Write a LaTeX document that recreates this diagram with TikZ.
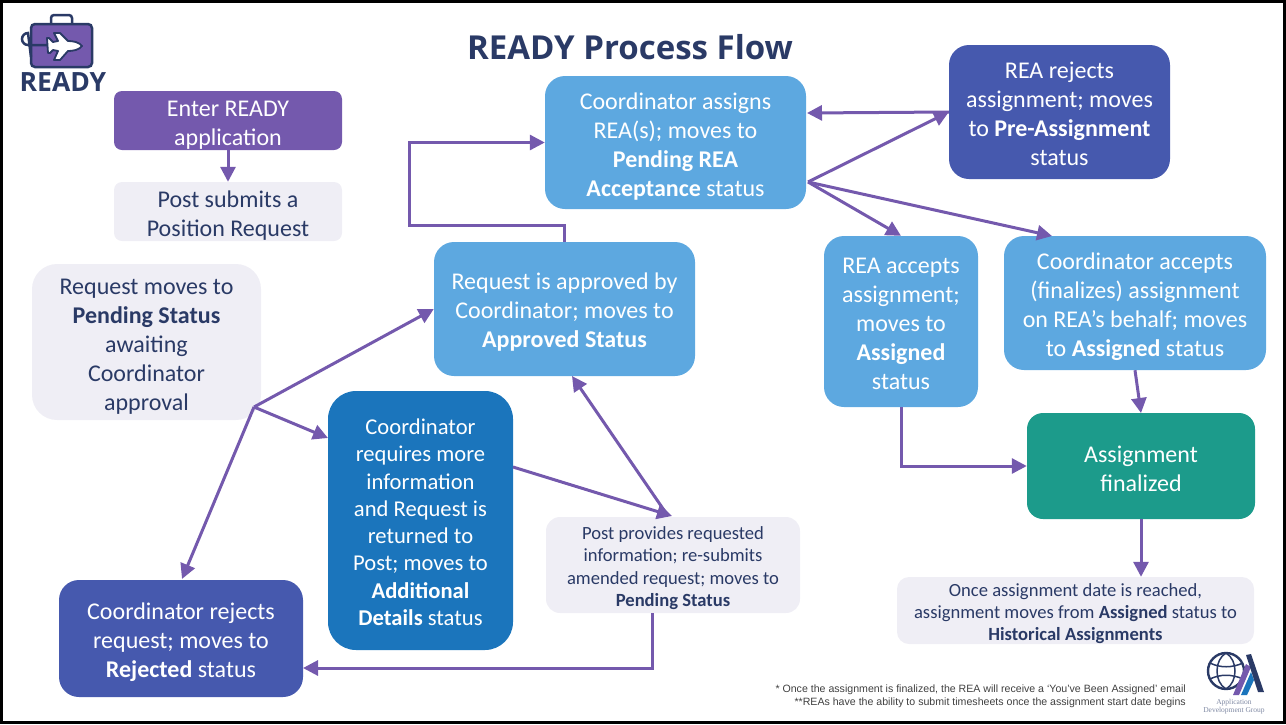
\documentclass[tikz,border=0pt]{standalone}
\usepackage{fontspec}
\setmainfont{Carlito}
\newfontfamily\titlefont{Open Sans}
\newfontfamily\notefont{Liberation Sans}
\newfontfamily\adgfont{Liberation Serif}
\usetikzlibrary{arrows.meta}
\definecolor{readypurple}{HTML}{7459AD}
\definecolor{readynavy}{HTML}{2A3A66}
\definecolor{palebox}{HTML}{EFEEF5}
\definecolor{skybox}{HTML}{5DA8E0}
\definecolor{indigobox}{HTML}{4659AE}
\definecolor{bluebox}{HTML}{1B75BC}
\definecolor{tealbox}{HTML}{1C9B8B}
\newcommand{\lowtext}[1][1.03]{\rule{0pt}{#1em}}
\tikzset{
	flowbox/.style={inner sep=0pt, align=center, font=\fontsize{24}{29}\selectfont, text=white},
	palestep/.style={flowbox, fill=palebox, text=readynavy},
	smallstep/.style={palestep, font=\fontsize{18.6}{22.3}\selectfont},
	skystep/.style={flowbox, fill=skybox, rounded corners=20pt},
	flowline/.style={draw=readypurple, line width=3pt, -{Triangle[length=15pt,width=15pt]}}
}
\begin{document}
\begin{tikzpicture}[x=1pt,y=-1pt]
	\useasboundingbox (0,0) rectangle (1286,724);
	\draw [black, line width=3pt] (1.5,1.5) rectangle (1284.5,722.5);

	% title and logo
	\node (title) at (630,47) [font=\titlefont\bfseries\fontsize{33}{38}\selectfont, text=readynavy] {READY Process Flow};
	\draw [readynavy, line width=2.5pt, rounded corners=3pt] (51,24) -- (51,15) -- (72,15) -- (72,24);
	\draw [readynavy, fill=readypurple, line width=2.5pt, rounded corners=4pt] (31,24) rectangle (92,67);
	\draw [readynavy, line width=2.5pt] (47,45) -- (28,45) arc (90:270:6) -- (31,57);
	\draw [readynavy, fill=white, line width=1.8pt, line join=round] (82,46) .. controls (79,42) and (73,41) .. (68,41) -- (60,33) -- (54,33) -- (58,41) -- (53,42) -- (49,38) -- (47,38) -- (48,53) -- (50,53) -- (53,50) -- (58,51) -- (54,60) -- (60,60) -- (68,51) .. controls (73,51) and (79,50) .. (82,46) -- cycle;
	\node (logotext) at (63,82) [font=\titlefont\bfseries\fontsize{26.5}{30}\selectfont, text=readynavy] {READY};

	% left column
	\node (enter) at (228,120.5) [flowbox, fill=readypurple, rounded corners=8pt, minimum width=228pt, minimum height=59pt] {\lowtext Enter READY\\application};
	\node (post) at (228,211.5) [palestep, rounded corners=8pt, minimum width=228pt, minimum height=59pt] {\lowtext Post submits a\\Position Request};
	\node (pending) at (146.5,342) [palestep, rounded corners=25pt, minimum width=229pt, minimum height=156pt] {\lowtext Request moves to\\\textbf{Pending Status}\\awaiting\\Coordinator\\approval};
	\node (rejected) at (181,638.5) [flowbox, fill=indigobox, rounded corners=20pt, minimum width=244pt, minimum height=117pt] {\lowtext Coordinator rejects\\request; moves to\\\textbf{Rejected} status};
	\node (more) at (420.5,520.5) [flowbox, fill=bluebox, rounded corners=28pt, minimum width=185pt, minimum height=259pt, font=\fontsize{22.6}{27.3}\selectfont] {\lowtext[.85]Coordinator\\requires more\\information\\and Request is\\returned to\\Post; moves to\\\textbf{Additional}\\\textbf{Details} status};

	% middle
	\node (approved) at (564.5,309) [skystep, minimum width=261pt, minimum height=134pt] {\lowtext[.95]Request is approved by\\Coordinator; moves to\\\textbf{Approved Status}};
	\node (assigns) at (675.5,142.5) [skystep, minimum width=261pt, minimum height=133pt] {\lowtext Coordinator assigns\\REA(s); moves to\\\textbf{Pending REA}\\\textbf{Acceptance} status};
	\node (provides) at (673,565) [smallstep, rounded corners=14pt, minimum width=254pt, minimum height=96pt] {\lowtext Post provides requested\\information; re-submits\\amended request; moves to\\\textbf{Pending Status}};

	% right
	\node (reject) at (1059.5,112) [flowbox, fill=indigobox, rounded corners=20pt, minimum width=221pt, minimum height=134pt] {\lowtext[.86]REA rejects\\assignment; moves\\to \textbf{Pre-Assignment}\\status};
	\node (accepts) at (901,321.5) [skystep, minimum width=154pt, minimum height=171pt] {\lowtext[.86]REA accepts\\assignment;\\moves to\\\textbf{Assigned}\\status};
	\node (behalf) at (1135,303) [skystep, minimum width=262pt, minimum height=134pt] {\lowtext Coordinator accepts\\(finalizes) assignment\\on REA’s behalf; moves\\to \textbf{Assigned} status};
	\node (final) at (1141,466) [flowbox, fill=tealbox, rounded corners=16pt, minimum width=228pt, minimum height=106pt] {\lowtext[.95]Assignment\\finalized};
	\node (history) at (1075.5,610.5) [smallstep, rounded corners=12pt, minimum width=357pt, minimum height=67pt] {\lowtext Once assignment date is reached,\\assignment moves from \textbf{Assigned} status to\\\textbf{Historical Assignments}};

	% hubs
	\coordinate (hubleft) at (254,407);
	\coordinate (hubright) at (808,182);
	\coordinate (morein) at (328,438);
	\coordinate (moreout) at (513,467);
	\coordinate (rejectedin) at (182,579);
	\coordinate (providesin) at (672,516);
	\coordinate (providesout) at (668,516);
	\coordinate (approvedin) at (572,376);
	\coordinate (loopleft) at (409,225);
	\coordinate (behalfin) at (1052,236);
	\coordinate (assignsin) at (807,113);
	\coordinate (finalin) at (1141,413);
	\coordinate (providesdown) at (652,613);
	\coordinate (rejectedlow) at (303,668);

	\draw [flowline] (enter) -- (post);
	\draw [flowline] (hubleft) -- (approved.west);
	\draw [flowline] (hubleft) -- (morein);
	\draw [flowline] (hubleft) -- (rejectedin);
	\draw [flowline] (moreout) -- (providesin);
	\draw [flowline] (providesout) -- (approvedin);
	\draw [flowline] (approved.north) |- (loopleft) |- (assigns.west);
	\draw [flowline] (reject.west) -- (assignsin);
	\draw [flowline] (hubright) -- (reject.west);
	\draw [flowline] (hubright) -- (accepts.north);
	\draw [flowline] (hubright) -- (behalfin);
	\draw [flowline] (behalf.south) -- (finalin);
	\draw [flowline] (accepts.south) |- (final.west);
	\draw [flowline] (final.south) -- (history.north -| final.south);
	\draw [flowline] (providesdown) |- (rejectedlow);

	% footnotes and group logo
	\node (note) at (1186,696.5) [anchor=east, align=right, inner sep=0pt, font=\notefont\fontsize{10.6}{13}\selectfont, text=black!75] {* Once the assignment is finalized, the REA will receive a ‘You’ve Been Assigned’ email\\**REAs have the ability to submit timesheets once the assignment start date begins};
	\draw [readynavy, line width=2.4pt] (1226,671) circle (18);
	\draw [readynavy, line width=1.5pt] (1226,653) .. controls (1214,660) and (1214,682) .. (1226,689);
	\draw [readynavy, line width=1.5pt] (1226,653) .. controls (1238,660) and (1238,682) .. (1226,689);
	\draw [readynavy, line width=1.5pt] (1210,663) .. controls (1220,668) and (1232,668) .. (1243,663);
	\draw [readynavy, line width=1.5pt] (1210,679) .. controls (1220,674) and (1232,674) .. (1243,679);
	\fill [white] (1233,696) -- (1252,654) -- (1266,654) -- (1266,696) -- cycle;
	\fill [readypurple] (1233,695) -- (1246,664) -- (1251,667) -- (1239,695) -- cycle;
	\fill [bluebox] (1241,695) -- (1251,672) -- (1254,680) -- (1247,695) -- cycle;
	\fill [readynavy] (1246,655) -- (1251,654) -- (1264,692) -- (1258,692) -- cycle;
	\node (adg) at (1234,707) [align=center, inner sep=0pt, font=\adgfont\fontsize{7.5}{8}\selectfont, text=readynavy!60] {Application\\Development Group};
\end{tikzpicture}
\end{document}
